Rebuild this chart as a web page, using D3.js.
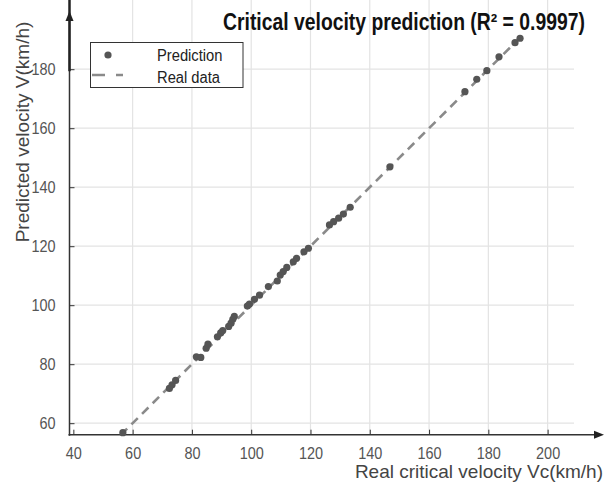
<!DOCTYPE html>
<html>
<head>
<meta charset="utf-8">
<script src="https://cdn.jsdelivr.net/npm/d3@7"></script>
<style>
  body { margin: 0; background: #fff; }
  text { font-family: "Liberation Sans", Arial, sans-serif; }
</style>
</head>
<body>
<script>
// Data
var realSpeed = [56.7, 72.4, 73.3, 74.5, 81.5, 83.0, 84.8, 85.4, 88.6, 89.7, 90.4,
                 92.4, 93.2, 93.8, 94.3, 98.7, 99.4, 101.1, 102.8, 105.8, 108.8,
                 109.8, 110.8, 112.0, 114.2, 115.3, 117.8, 119.3, 126.4, 127.8,
                 129.5, 131.1, 133.4, 146.8, 172.1, 176.1, 179.5, 183.6, 189.0, 190.7];
var predSpeed = [56.8, 71.8, 73.0, 74.5, 82.5, 82.3, 85.4, 86.8, 89.3, 90.6, 91.4,
                 92.8, 93.9, 95.2, 96.2, 99.7, 100.4, 102.0, 103.4, 106.3, 108.2,
                 110.2, 111.4, 112.8, 114.7, 115.9, 118.1, 119.3, 127.2, 128.3,
                 129.5, 130.9, 133.2, 146.9, 172.4, 176.6, 179.5, 184.2, 189.0, 190.5];
var realLine = [56, 192];            // y = x reference line
var xTicks = [40, 60, 80, 100, 120, 140, 160, 180, 200];
var yTicks = [60, 80, 100, 120, 140, 160, 180];
var titleText = "Critical velocity prediction (R\u00b2 = 0.9997)";
var xLabel = "Real critical velocity Vc(km/h)";
var yLabel = "Predicted velocity V(km/h)";
var legendNames = ["Prediction", "Real data"];

var svgWidth = 606;
var svgHeight = 484;

var svg = d3.select("body")
            .append("svg")
            .attr("width", svgWidth)
            .attr("height", svgHeight);

// plot box (MATLAB-like limits)
var x = d3.scaleLinear().domain([38.7, 208.9]).range([69.5, 574]);
var y = d3.scaleLinear().domain([56.1, 189.7]).range([434.7, 40.6]);

var left = x.range()[0], right = x.range()[1];
var bottom = y.range()[0], top = y.range()[1];

// squeeze text a little like the narrow font of the original
function condense(sel, k) {
  sel.each(function() {
    var w = this.getComputedTextLength();
    d3.select(this).attr("textLength", w * k).attr("lengthAdjust", "spacingAndGlyphs");
  });
}

// grid
svg.append("g").selectAll("line")
   .data(xTicks.filter(function(d) { return d > 40; }))
   .enter().append("line")
   .attr("x1", function(d) { return x(d); })
   .attr("x2", function(d) { return x(d); })
   .attr("y1", top).attr("y2", bottom)
   .attr("stroke", "#e3e3e3").attr("stroke-width", 1.2);

svg.append("g").selectAll("line")
   .data(yTicks)
   .enter().append("line")
   .attr("x1", left).attr("x2", right)
   .attr("y1", function(d) { return y(d); })
   .attr("y2", function(d) { return y(d); })
   .attr("stroke", "#e3e3e3").attr("stroke-width", 1.2);

// axes with inward ticks
var xAxis = svg.append("g")
   .attr("transform", "translate(0," + bottom + ")")
   .call(d3.axisBottom(x).tickValues(xTicks).tickSizeInner(-5).tickSizeOuter(0));
xAxis.select(".domain").remove();
xAxis.selectAll("line").attr("stroke", "#333");
xAxis.selectAll("text")
     .attr("y", 24).attr("dy", 0)
     .style("font-size", "17px").attr("fill", "#555");

var yAxis = svg.append("g")
   .attr("transform", "translate(" + left + ",0)")
   .call(d3.axisLeft(y).tickValues(yTicks).tickSizeInner(-5).tickSizeOuter(0));
yAxis.select(".domain").remove();
yAxis.selectAll("line").attr("stroke", "#333");
yAxis.selectAll("text")
     .attr("x", -14)
     .style("font-size", "17px").attr("fill", "#555");

condense(xAxis.selectAll("text"), 0.85);
condense(yAxis.selectAll("text"), 0.85);

// axis lines with arrows
svg.append("line")
   .attr("x1", left - 1).attr("x2", 598)
   .attr("y1", bottom).attr("y2", bottom)
   .attr("stroke", "#333").attr("stroke-width", 1.5);
svg.append("path")
   .attr("d", "M604," + bottom + " L594," + (bottom - 4) + " L594," + (bottom + 4) + " Z")
   .attr("fill", "#222");

svg.append("line")
   .attr("x1", left).attr("x2", left)
   .attr("y1", bottom + 1).attr("y2", 18)
   .attr("stroke", "#333").attr("stroke-width", 1.5);
svg.append("line")
   .attr("x1", left).attr("x2", left)
   .attr("y1", top).attr("y2", y(180) + 2)
   .attr("stroke", "#222").attr("stroke-width", 2.5);
svg.append("path")
   .attr("d", "M" + left + ",11 L" + (left - 4) + ",21 L" + (left + 4) + ",21 Z")
   .attr("fill", "#222");

// reference line y = x
svg.append("line")
   .attr("x1", x(realLine[0])).attr("y1", y(realLine[0]))
   .attr("x2", x(realLine[1])).attr("y2", y(realLine[1]))
   .attr("stroke", "#8a8a8a").attr("stroke-width", 2.6)
   .attr("stroke-dasharray", "9,6");

// predicted points
svg.append("g").selectAll("circle")
   .data(realSpeed)
   .enter().append("circle")
   .attr("cx", function(d) { return x(d); })
   .attr("cy", function(d, i) { return y(predSpeed[i]); })
   .attr("r", 3.6)
   .attr("fill", "#555");

// title: narrow bold, squeezed with a scale so its box stays on the page
var title = svg.append("text")
   .style("font-size", "23px").style("font-weight", "bold")
   .attr("fill", "#111")
   .text(titleText);
var titleW = title.node().getComputedTextLength();
title.attr("transform", "translate(223,30) scale(" + (362 / titleW) + ",1)");

// axis labels
svg.append("text")
   .attr("x", 603).attr("y", 478)
   .attr("text-anchor", "end")
   .style("font-size", "19px").attr("fill", "#444")
   .text(xLabel);

svg.append("text")
   .attr("transform", "translate(29," + 132 + ") rotate(-90)")
   .attr("text-anchor", "middle")
   .style("font-size", "19px").attr("fill", "#444")
   .text(yLabel);

// legend
var legend = svg.append("g");
legend.append("rect")
      .attr("x", 90.5).attr("y", 42.5)
      .attr("width", 152.5).attr("height", 45)
      .attr("fill", "#fff").attr("stroke", "#333").attr("stroke-width", 1);
legend.append("circle")
      .attr("cx", 108).attr("cy", 55).attr("r", 3.6).attr("fill", "#555");
legend.append("line")
      .attr("x1", 92).attr("x2", 123).attr("y1", 75).attr("y2", 75)
      .attr("stroke", "#8a8a8a").attr("stroke-width", 2.6)
      .attr("stroke-dasharray", "13,11,7");
var legendText = legend.selectAll("text.leg")
      .data(legendNames)
      .enter().append("text")
      .attr("class", "leg")
      .attr("x", 157)
      .attr("y", function(d, i) { return 60.5 + i * 22; })
      .style("font-size", "16px").attr("fill", "#222")
      .text(function(d) { return d; });
condense(legendText, 0.92);
</script>
</body>
</html>
